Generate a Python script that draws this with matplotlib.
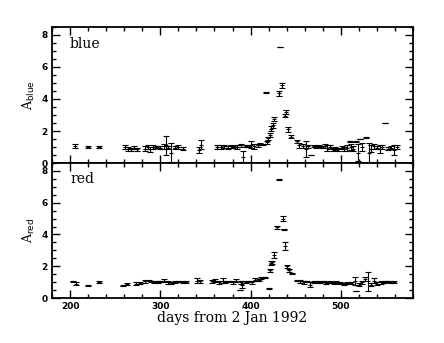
import matplotlib as mplt
mplt.use("Agg")
import matplotlib.pyplot as plt
from matplotlib.ticker import MultipleLocator

# blue band: days, amplification, 1-sigma error
blue_day = [206, 220, 232, 261, 264, 267, 271, 274, 283, 286, 289, 292, 296, 300,
            304, 306, 309, 312, 316, 320, 325, 343, 345, 363, 367, 371, 375, 378,
            381, 385, 389, 392, 395, 398, 401, 404, 408, 411, 414, 417, 418, 419,
            421, 423, 425, 426, 431, 433, 435, 438, 439, 442, 445, 451, 454, 458,
            461, 464, 467, 470, 473, 476, 479, 482, 485, 488, 491, 494, 497, 501,
            504, 507, 510, 511, 513, 517, 519, 521, 524, 528, 531, 534, 537, 540,
            543, 546, 549, 552, 556, 559, 562]
blue_amp = [1.05, 1.0, 1.0, 1.0, 0.9, 0.85, 0.95, 0.85, 0.9, 1.0, 0.85, 1.0, 1.0, 0.95,
            1.05, 1.1, 0.95, 0.65, 0.95, 1.0, 0.9, 0.8, 1.15, 1.0, 1.0, 1.05, 0.95, 1.05,
            1.0, 1.0, 1.1, 0.4, 1.05, 1.05, 1.15, 1.05, 1.1, 1.2, 1.15, 4.4, 1.3, 1.55,
            1.75, 2.15, 2.35, 2.75, 4.35, 7.25, 4.85, 2.95, 3.2, 2.1, 1.65, 1.35, 1.1, 1.05,
            0.9, 1.05, 0.5, 1.05, 1.0, 1.05, 1.0, 1.05, 0.95, 1.0, 0.85, 0.9, 0.85, 0.95,
            0.9, 0.95, 1.35, 1.0, 0.9, 1.35, 0.65, 1.5, 1.0, 1.6, 0.65, 0.9, 1.05, 0.95,
            0.85, 1.0, 2.5, 0.9, 0.95, 0.8, 1.0]
blue_err = [0.12, 0.08, 0.05, 0.1, 0.12, 0.08, 0.1, 0.1, 0.15, 0.12, 0.15, 0.15, 0.08, 0.1,
            0.15, 0.6, 0.1, 0.6, 0.1, 0.1, 0.1, 0.2, 0.3, 0.12, 0.1, 0.1, 0.1, 0.1,
            0.05, 0.1, 0.08, 0.35, 0.05, 0.08, 0.2, 0.15, 0.1, 0.08, 0.05, 0.02, 0.1, 0.1,
            0.12, 0.15, 0.15, 0.15, 0.15, 0.03, 0.15, 0.1, 0.12, 0.15, 0.08, 0.1, 0.15, 0.12,
            0.5, 0.1, 0.02, 0.08, 0.08, 0.05, 0.08, 0.12, 0.2, 0.12, 0.1, 0.1, 0.1, 0.1,
            0.12, 0.2, 0.02, 0.2, 0.15, 0.02, 0.55, 0.02, 0.25, 0.02, 0.6, 0.2, 0.15, 0.1,
            0.25, 0.1, 0.02, 0.1, 0.1, 0.3, 0.1]

# red band
red_day = [203, 207, 220, 232, 259, 263, 273, 278, 283, 287, 290, 293, 297, 300,
           304, 308, 312, 316, 320, 325, 329, 341, 344, 357, 361, 365, 369, 372,
           376, 380, 384, 388, 389, 391, 395, 398, 402, 405, 409, 412, 416, 420,
           421, 423, 424, 426, 429, 432, 436, 437, 438, 440, 443, 446, 451, 455,
           459, 463, 466, 470, 474, 477, 481, 484, 488, 492, 495, 499, 503, 507,
           511, 516, 517, 520, 523, 527, 530, 533, 537, 540, 544, 548, 551, 555, 559]
red_amp = [1.05, 0.9, 0.8, 1.0, 0.8, 0.9, 0.9, 0.95, 1.05, 1.1, 1.05, 1.0, 1.0, 1.05,
           1.1, 1.0, 0.95, 1.0, 1.05, 1.0, 1.0, 1.1, 1.05, 1.05, 1.1, 1.0, 1.1, 1.0,
           1.05, 1.0, 1.1, 0.5, 1.0, 0.85, 1.0, 1.05, 1.0, 1.15, 1.15, 1.25, 1.3, 0.6,
           1.75, 2.2, 2.25, 2.7, 4.45, 7.45, 5.0, 4.3, 3.3, 2.0, 1.75, 1.55, 1.1, 1.05,
           1.0, 1.05, 0.85, 1.0, 1.0, 1.0, 1.05, 0.95, 1.0, 0.95, 1.0, 0.95, 0.9, 0.95,
           0.95, 1.05, 0.45, 0.85, 1.0, 1.2, 1.05, 0.85, 1.1, 0.9, 1.0, 1.0, 1.05, 1.0, 1.0]
red_err = [0.05, 0.1, 0.05, 0.05, 0.05, 0.05, 0.08, 0.05, 0.08, 0.05, 0.05, 0.05, 0.05, 0.05,
           0.1, 0.1, 0.08, 0.05, 0.05, 0.05, 0.05, 0.15, 0.1, 0.1, 0.08, 0.1, 0.15, 0.08,
           0.05, 0.1, 0.08, 0.02, 0.1, 0.2, 0.05, 0.05, 0.1, 0.1, 0.05, 0.08, 0.05, 0.02,
           0.1, 0.1, 0.1, 0.2, 0.1, 0.02, 0.15, 0.02, 0.25, 0.1, 0.1, 0.05, 0.05, 0.08,
           0.1, 0.05, 0.15, 0.05, 0.05, 0.08, 0.05, 0.05, 0.08, 0.05, 0.05, 0.05, 0.05, 0.05,
           0.05, 0.25, 0.02, 0.1, 0.1, 0.1, 0.6, 0.1, 0.15, 0.1, 0.1, 0.05, 0.05, 0.05, 0.05]

PANELS = [
    ('blue', r'A$_{\rm blue}$', blue_day, blue_amp, blue_err),
    ('red',  r'A$_{\rm red}$',  red_day,  red_amp,  red_err),
]

fig = plt.figure(figsize=(4.44, 3.43), dpi=100)
left, width = 52 / 444, (413 - 52) / 444
ax_top = fig.add_axes([left, 1 - 163 / 343, width, 136 / 343])
ax_bot = fig.add_axes([left, 1 - 298 / 343, width, 135 / 343], sharex=ax_top)

for ax, (name, ylabel, day, amp, err) in zip([ax_top, ax_bot], PANELS):
    ax.errorbar(day, amp, yerr=err, fmt='none', ecolor='black', elinewidth=0.8,
                capsize=2, capthick=0.8)
    ax.plot(day, amp, linestyle='none', marker='_', markersize=3, color='black', mew=0.8)

    ax.set_xlim(180, 580)
    ax.set_ylim(0, 8.5)
    ax.xaxis.set_major_locator(MultipleLocator(100))
    ax.xaxis.set_minor_locator(MultipleLocator(20))
    ax.yaxis.set_major_locator(MultipleLocator(2))
    ax.yaxis.set_minor_locator(MultipleLocator(0.5))
    ax.tick_params(which='both', direction='in', top=True, right=True, width=1)
    ax.tick_params(which='major', length=6, labelsize=6.5, pad=3)
    ax.tick_params(which='minor', length=3)
    for lab in ax.get_xticklabels() + ax.get_yticklabels():
        lab.set_fontweight('bold')
    for sp in ax.spines.values():
        sp.set_linewidth(1.3)

    ax.text(0.05, 0.93, name, transform=ax.transAxes, ha='left', va='top',
            family='DejaVu Serif', fontsize=10)
    ax.set_ylabel(ylabel, family='DejaVu Serif', fontsize=9, labelpad=3)

plt.setp(ax_top.get_xticklabels(), visible=False)
ax_bot.set_xlabel('days from 2 Jan 1992', family='DejaVu Serif', fontsize=10, labelpad=0)

plt.savefig('out.png', dpi=100)
